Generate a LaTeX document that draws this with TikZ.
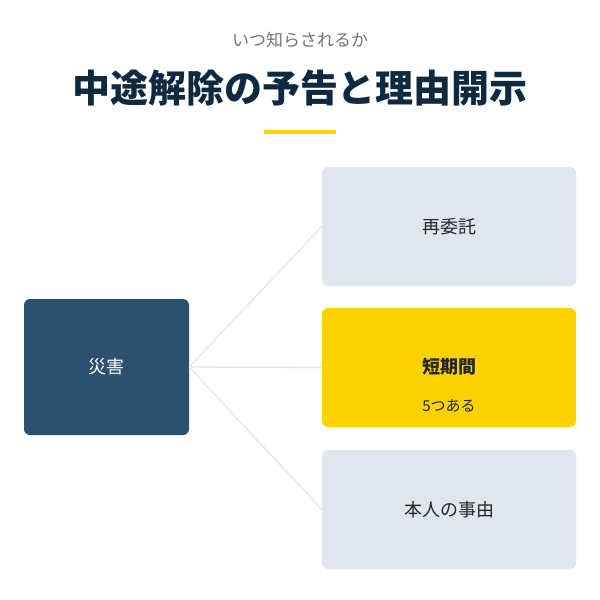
\documentclass[tikz,border=0pt]{standalone}
\usepackage{fontspec}
\setmainfont{Noto Sans CJK JP}
\newfontfamily\cjkb{Noto Sans CJK JP}[BoldFont={* Bold}]
\begin{document}
\begin{tikzpicture}[x=1pt,y=-1pt,
  box/.style={rounded corners=6pt,minimum width=254pt,minimum height=119pt,fill=gray!20!blue!6,draw=none,inner sep=0pt,font=\fontsize{18}{20}\selectfont,text=black!85},
  conn/.style={draw=black!10,line width=1.3pt}]
\definecolor{pale}{HTML}{E0E6EE}
\definecolor{navy}{HTML}{2C5070}
\definecolor{gold}{HTML}{FCD200}
\definecolor{ttl}{HTML}{0F2A40}
\useasboundingbox[fill=white] (0,0) rectangle (600,600);
\node[font=\fontsize{17}{20}\selectfont,text=black!55] (sub) at (300,40) {いつ知らされるか};
\node[font=\fontsize{38}{44}\selectfont\bfseries,text=ttl] (title) at (300,88) {中途解除の予告と理由開示};
\fill[gold] (264,129.5) rectangle (336,133.5);
\node[box,fill=navy,minimum width=165pt,minimum height=136pt,text=white] (a) at (106.5,367) {災害};
\node[box,fill=pale] (b1) at (449,226.5) {再委託};
\node[box,fill=gold,align=center] (b2) at (449,367.5) {};
\node[font=\fontsize{18}{20}\selectfont\bfseries,text=black!85] (b2t) at (449,367) {短期間};
\node[font=\fontsize{15}{18}\selectfont,text=black!85] (b2s) at (449,406) {5つある};
\node[box,fill=pale] (b3) at (449,509.5) {本人の事由};
\draw[conn] (a.east) -- (b1.west);
\draw[conn] (a.east) -- (b2.west);
\draw[conn] (a.east) -- (b3.west);
\end{tikzpicture}
\end{document}
